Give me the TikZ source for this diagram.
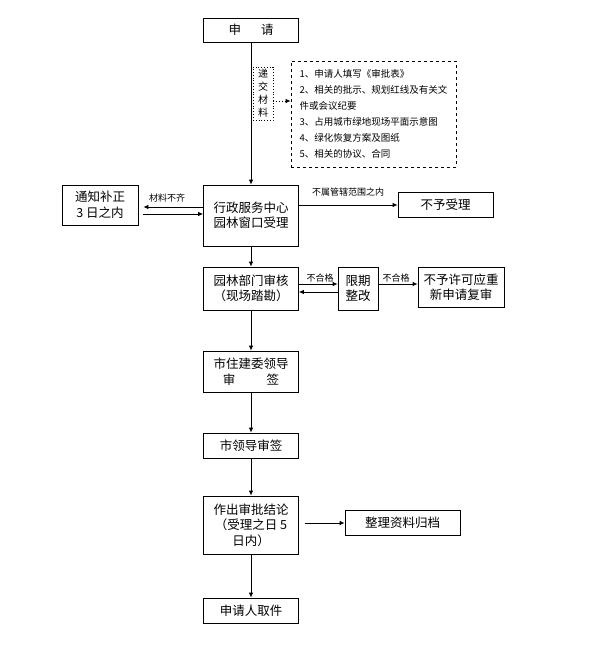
\documentclass[tikz,border=0pt]{standalone}
\usepackage{fontspec}
\setmainfont{Noto Sans CJK SC}
\usetikzlibrary{arrows.meta,calc}
\begin{document}
\begin{tikzpicture}[x=1pt,y=1pt,
  box/.style={draw,line width=0.8pt,align=center,inner sep=1pt,font=\fontsize{12.5}{15.5}\selectfont},
  arr/.style={line width=0.8pt,-{Latex[length=5pt,width=4.5pt]}},
  lab/.style={font=\fontsize{9}{10}\selectfont,inner sep=0pt}]
\useasboundingbox (0,0) rectangle (589,-665);
\node[box,minimum width=95,minimum height=24] (sq) at (251,-30) {申\hspace{1.6em}请};
\node[draw,dotted,line width=0.8pt,minimum width=20,minimum height=53,inner sep=0pt,align=center,font=\fontsize{10}{13}\selectfont] (dj) at (263,-93.5) {递\\交\\材\\料};
\node[draw,dashed,line width=0.8pt,minimum width=165,minimum height=106,inner xsep=7,align=left,font=\fontsize{9.5}{16}\selectfont] (dl) at (373.5,-114) {1、申请人填写《审批表》\\2、相关的批示、规划红线及有关文\\件或会议纪要\\3、占用城市绿地现场平面示意图\\4、绿化恢复方案及图纸\\5、相关的协议、合同};
\node[box,minimum width=95,minimum height=61] (xz) at (251,-215.5) {行政服务中心\\园林窗口受理};
\node[box,minimum width=76,minimum height=40] (tz) at (100,-205) {通知补正\\3 日之内};
\node[box,minimum width=95,minimum height=25] (bs) at (445.5,-204.5) {不予受理};
\node[box,minimum width=95,minimum height=43] (yl) at (251,-288.5) {园林部门审核\\（现场踏勘）};
\node[box,minimum width=40,minimum height=43] (xq) at (358,-288.5) {限期\\整改};
\node[box,minimum width=86,minimum height=40] (bx) at (461,-287) {不予许可应重\\新申请复审};
\node[box,minimum width=95,minimum height=41] (zj) at (251,-371.5) {市住建委领导\\审\hspace{2.5em}签};
\node[box,minimum width=95,minimum height=25] (ld) at (251,-445.5) {市领导审签};
\node[box,minimum width=95,minimum height=58] (zc) at (251,-525) {作出审批结论\\（受理之日 5\\日内）};
\node[box,minimum width=115,minimum height=25] (zl) at (402.5,-522.5) {整理资料归档};
\node[box,minimum width=95,minimum height=25] (qj) at (251,-610.5) {申请人取件};
% connectors
\draw[arr] (sq.south) -- (xz.north);
\draw[line width=0.8pt,dotted,-{Latex[length=5pt,width=4.5pt]}] ([yshift=-7.5pt]dj.east) -- ([yshift=-7.5pt]dj.east -| dl.west);
\draw[arr,shorten >=5pt] ([yshift=8.5pt]xz.west) -- ([yshift=8.5pt]xz.west -| tz.east);
\draw[arr,shorten <=5pt] ([yshift=1.5pt]xz.west -| tz.east) -- ([yshift=1.5pt]xz.west);
\node[lab] (l1) at (167,-198) {材料不齐};
\draw[arr] ([yshift=10.5pt]xz.east) -- ([yshift=10.5pt]xz.east -| bs.west);
\node[lab] (l2) at (348,-192) {不属管辖范围之内};
\draw[arr] (xz.south) -- (yl.north);
\draw[arr] ([yshift=4.5pt]yl.east) -- ([yshift=4.5pt]yl.east -| xq.west);
\draw[arr] ([yshift=-3.5pt]xq.west) -- ([yshift=-3.5pt]xq.west -| yl.east);
\node[lab] (l3) at (320,-278) {不合格};
\draw[arr] ([yshift=4.5pt]xq.east) -- ([yshift=4.5pt]xq.east -| bx.west);
\node[lab] (l4) at (396,-278) {不合格};
\draw[arr] (yl.south) -- (zj.north);
\draw[arr] (zj.south) -- (ld.north);
\draw[arr] (ld.south) -- (zc.north);
\draw[arr,shorten <=6pt] ([yshift=2pt]zc.east) -- ([yshift=2pt]zc.east -| zl.west);
\draw[arr] (zc.south) -- (qj.north);
\end{tikzpicture}
\end{document}
